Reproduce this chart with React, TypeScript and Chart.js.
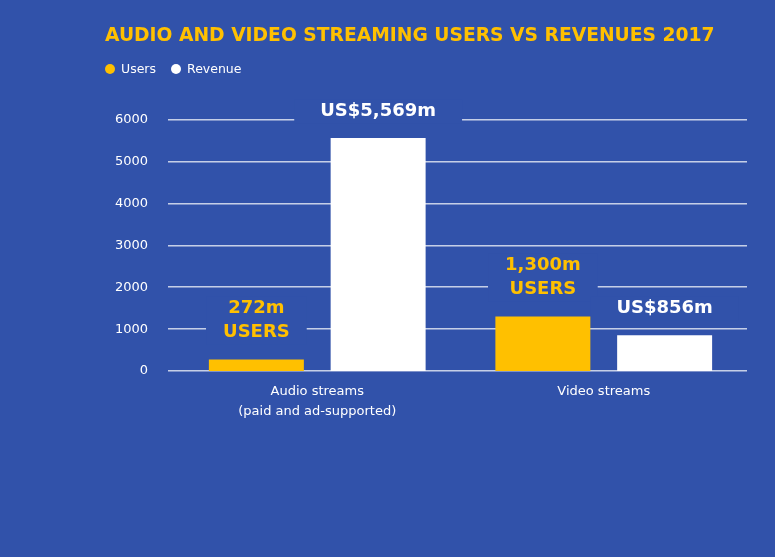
import React, { useEffect, useRef } from "react";
import { Chart, registerables } from "chart.js";
Chart.register(...registerables);

const title = "AUDIO AND VIDEO STREAMING USERS VS REVENUES 2017";
const categories = [["Audio streams", "(paid and ad-supported)"], "Video streams"];
const seriesNames = ["Users", "Revenue"];
const usersValues = [272, 1300];
const revenueValues = [5569, 856];
const usersLabels = [["272m", "USERS"], ["1,300m", "USERS"]];
const revenueLabels = [["US$5,569m"], ["US$856m"]];
const yMin = 0;
const yMax = 6000;
const yStep = 1000;

const BG = "#3152AA";
const YELLOW = "#FFC000";
const WHITE = "#FFFFFF";
const FONT = "'DejaVu Sans', sans-serif";

export default function App() {
  const ref = useRef<HTMLCanvasElement | null>(null);
  useEffect(() => {
    const canvas = ref.current!;
    const valueLabels = [usersLabels, revenueLabels];
    const labelColors = [YELLOW, WHITE];
    const labelPad = [17, 26];
    const GRID_LEFT = 168;

    const labelGeom = (chart: any, i: number, j: number, bar: any) => {
      const ctx = chart.ctx;
      const lines = valueLabels[i][j];
      const lh = 24;
      const lastY = bar.y - 27;
      const firstY = lastY - (lines.length - 1) * lh;
      let maxW = 0;
      lines.forEach((l: string) => (maxW = Math.max(maxW, ctx.measureText(l).width)));
      const bw = maxW + labelPad[i] * 2;
      return { lines, lh, lastY, firstY, bw };
    };

    const decor = {
      id: "decor",
      beforeDraw(chart: any) {
        const ctx = chart.ctx;
        ctx.save();
        ctx.fillStyle = BG;
        ctx.fillRect(0, 0, chart.width, chart.height);
        ctx.restore();
      },
      beforeDatasetsDraw(chart: any) {
        const ctx = chart.ctx;
        const y = chart.scales.y;
        const area = chart.chartArea;
        ctx.save();
        y.ticks.forEach((t: any) => {
          const py = Math.round(y.getPixelForValue(t.value));
          ctx.fillStyle = "rgba(255,255,255,0.72)";
          ctx.fillRect(GRID_LEFT, py - 1, area.right - GRID_LEFT, 1);
          ctx.fillStyle = "rgba(255,255,255,0.38)";
          ctx.fillRect(GRID_LEFT, py, area.right - GRID_LEFT, 1);
        });
        ctx.font = `bold 18px ${FONT}`;
        ctx.fillStyle = BG;
        chart.data.datasets.forEach((_ds: any, i: number) => {
          const meta = chart.getDatasetMeta(i);
          meta.data.forEach((bar: any, j: number) => {
            const g = labelGeom(chart, i, j, bar);
            ctx.fillRect(bar.x - g.bw / 2, g.firstY - 12, g.bw, g.lastY - g.firstY + 24);
          });
        });
        ctx.restore();
      },
      afterDatasetsDraw(chart: any) {
        const ctx = chart.ctx;
        ctx.save();
        ctx.font = `bold 18px ${FONT}`;
        ctx.textAlign = "center";
        ctx.textBaseline = "middle";
        chart.data.datasets.forEach((_ds: any, i: number) => {
          const meta = chart.getDatasetMeta(i);
          meta.data.forEach((bar: any, j: number) => {
            const g = labelGeom(chart, i, j, bar);
            ctx.fillStyle = labelColors[i];
            g.lines.forEach((l: string, k: number) => ctx.fillText(l, bar.x, g.firstY + k * g.lh));
          });
        });
        ctx.restore();
      },
      afterDraw(chart: any) {
        const ctx = chart.ctx;
        ctx.save();
        ctx.font = `bold 20px ${FONT}`;
        const w = ctx.measureText(title).width;
        const size = (20 * 610) / w;
        ctx.font = `bold ${size}px ${FONT}`;
        ctx.fillStyle = YELLOW;
        ctx.textAlign = "left";
        ctx.textBaseline = "middle";
        ctx.fillText(title, 105, 36);
        ctx.font = `12.5px ${FONT}`;
        let x = 105;
        const colors = [YELLOW, WHITE];
        seriesNames.forEach((name, i) => {
          ctx.fillStyle = colors[i];
          ctx.beginPath();
          ctx.arc(x + 5, 69, 5, 0, Math.PI * 2);
          ctx.fill();
          ctx.fillStyle = WHITE;
          ctx.fillText(name, x + 16, 69.5);
          x += 16 + ctx.measureText(name).width + 15;
        });
        ctx.restore();
      },
    };

    const chart = new Chart(canvas, {
      type: "bar",
      data: {
        labels: categories,
        datasets: [
          {
            label: seriesNames[0],
            data: usersValues,
            backgroundColor: YELLOW,
            categoryPercentage: 0.85,
            barPercentage: 0.78,
          },
          {
            label: seriesNames[1],
            data: revenueValues,
            backgroundColor: WHITE,
            categoryPercentage: 0.85,
            barPercentage: 0.78,
          },
        ],
      },
      options: {
        responsive: false,
        animation: false,
        layout: { padding: { top: 120, right: 28, left: 0, bottom: 0 } },
        plugins: {
          legend: { display: false },
          title: { display: false },
          tooltip: { enabled: false },
        },
        scales: {
          x: {
            grid: { display: false, drawTicks: false },
            border: { display: false },
            ticks: {
              color: WHITE,
              font: { family: FONT, size: 13, lineHeight: 1.5 },
              padding: 11,
              maxRotation: 0,
            },
            afterFit: (scale: any) => {
              scale.height = 186;
            },
          },
          y: {
            min: yMin,
            max: yMax,
            grid: { display: false, drawTicks: false },
            border: { display: false },
            ticks: {
              stepSize: yStep,
              color: WHITE,
              font: { family: FONT, size: 13 },
              padding: 26,
              callback: (v: any) => String(v),
            },
            afterFit: (scale: any) => {
              scale.width = 174;
            },
          },
        },
      },
      plugins: [decor],
    });
    return () => chart.destroy();
  }, []);
  return (
    <div style={{ position: "fixed", left: 0, top: 0, width: 775, height: 557, background: BG }}>
      <canvas ref={ref} width={775} height={557} style={{ display: "block" }} />
    </div>
  );
}
